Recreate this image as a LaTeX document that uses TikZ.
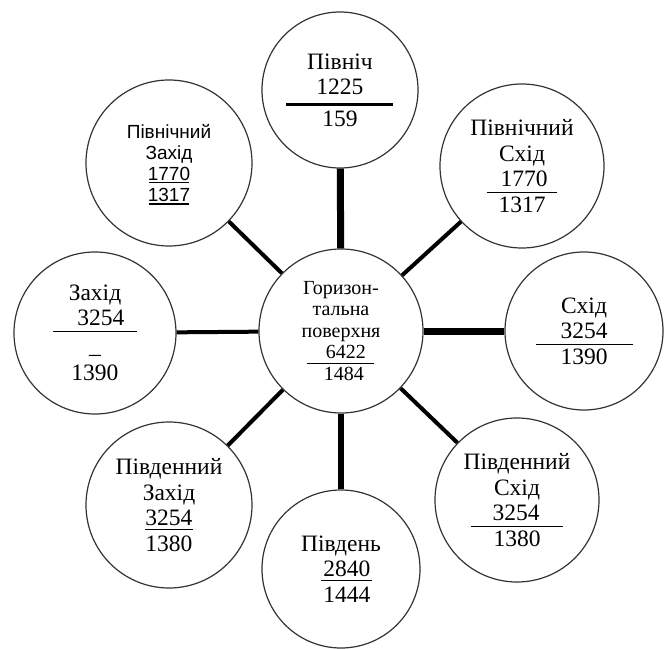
\documentclass[tikz,border=0pt]{standalone}
\usepackage{fontspec}
\setmainfont{Liberation Serif}
\newfontfamily\arialfont{Liberation Sans}
\usepackage{tikz}

\newcommand{\fbar}[5][0pt]{\makebox[#2]{\hspace{#1}#5\hspace{-#1}}\llap{\smash{\rule[\dimexpr-#4-#3\relax]{#2}{#3}}}}

\tikzset{
    region/.style={circle,draw=black!80,line width=0.6pt,inner sep=0pt,align=center,font=\fontsize{11.75}{12.75}\selectfont},
    link/.style={line width=2pt},
    wide link/.style={line width=3.5pt}
}

\begin{document}
\begin{tikzpicture}[x=0.5pt,y=0.5pt]
\useasboundingbox (-341,-317) rectangle (323,331);
\coordinate (O) at (0,0);

\node[region,minimum size=82pt,font=\fontsize{10}{10.75}\selectfont] (C) at (O) {Горизон-\\тальна\\поверхня\\\fbar[2.5pt]{33.5pt}{0.5pt}{2pt}{6422}\\\hspace*{3pt}1484};
\node[region,minimum size=78pt] (N) at (-1,241) {Північ\\\fbar{53.5pt}{1.5pt}{4pt}{1225}\\[3pt]159};
\node[region,minimum size=82pt] (NE) at (181,165) {Північний\\Схід\\\fbar[1pt]{35pt}{0.6pt}{2.5pt}{1770}\\1317};
\node[region,minimum size=79pt] (E) at (243,0) {Схід\\\fbar{48.5pt}{0.6pt}{2.5pt}{3254}\\1390};
\node[region,minimum size=82pt] (SE) at (176,-169) {Південний\\Схід\\\fbar[-0.5pt]{46pt}{0.6pt}{2.5pt}{3254}\\1380};
\node[region,minimum size=79pt] (S) at (0,-238) {Південь\\\hspace*{6pt}\fbar{25.5pt}{0.6pt}{1.5pt}{2840}\\\hspace*{6pt}1444};
\node[region,minimum size=83pt] (SW) at (-172,-174) {Південний\\Захід\\\fbar{24pt}{0.6pt}{1.5pt}{3254}\\1380};
\node[region,minimum size=81pt] (W) at (-246,-2) {Захід\\\fbar[3pt]{42pt}{0.6pt}{2.5pt}{3254}\\[1pt]\_\\[1pt]1390};
\node[region,minimum size=83pt,font=\arialfont\fontsize{9.5}{10.5}\selectfont] (NW) at (-172,168) {Північний\\Захід\\\fbar{20pt}{0.5pt}{1pt}{1770}\\\fbar{20pt}{0.8pt}{1pt}{1317}};

\draw[wide link] (C) -- (N);
\draw[link] (C) -- (NE);
\draw[wide link] (C) -- (E);
\draw[link] (C) -- (SE);
\draw[link,line width=3pt] (C) -- (S);
\draw[link] (C) -- (SW);
\draw[link] (C) -- (W);
\draw[link] (C) -- (NW);
\end{tikzpicture}
\end{document}
